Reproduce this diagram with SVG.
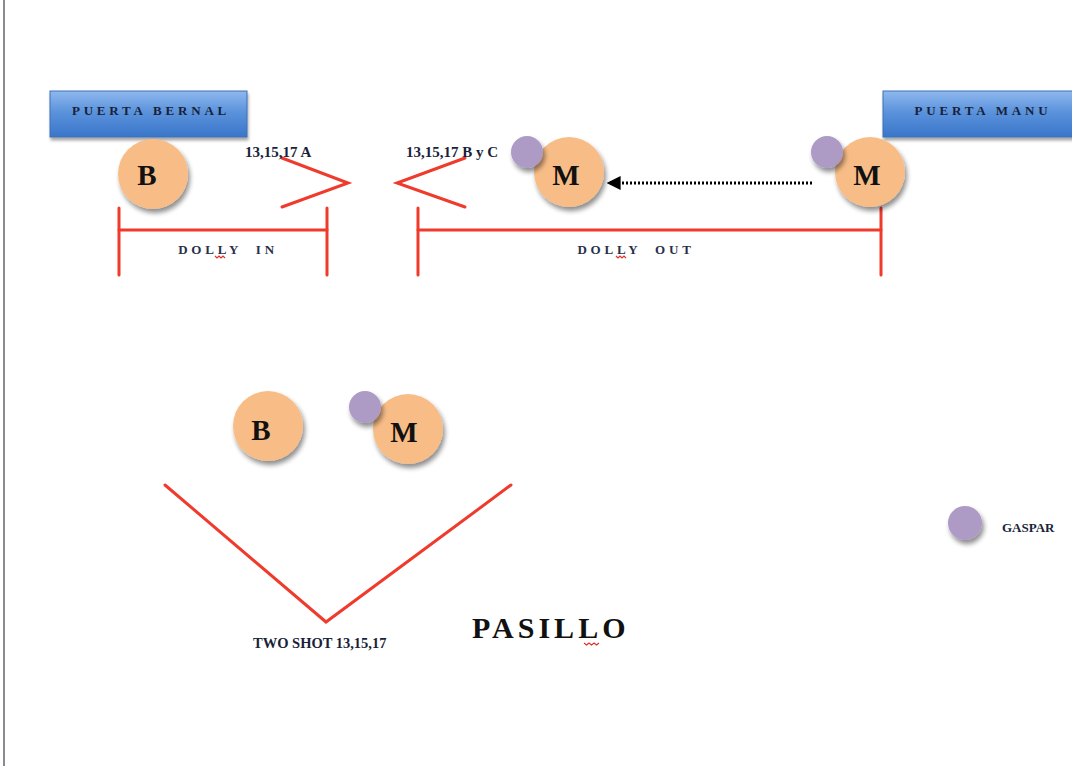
<svg xmlns="http://www.w3.org/2000/svg" width="1072" height="766" viewBox="0 0 1072 766">
<defs>
<linearGradient id="doorGrad" x1="0" y1="0" x2="0" y2="1">
<stop offset="0" stop-color="#8fb8ee"/>
<stop offset="0.45" stop-color="#5b93dc"/>
<stop offset="1" stop-color="#3a75c9"/>
</linearGradient>
<filter id="shadow" x="-30%" y="-30%" width="170%" height="170%">
<feGaussianBlur in="SourceAlpha" stdDeviation="2.5"/>
<feOffset dx="2" dy="4" result="b"/>
<feComponentTransfer><feFuncA type="linear" slope="0.45"/></feComponentTransfer>
<feMerge><feMergeNode/><feMergeNode in="SourceGraphic"/></feMerge>
</filter>
<filter id="lineShadow" x="-5%" y="-200%" width="110%" height="500%">
<feGaussianBlur in="SourceAlpha" stdDeviation="1.5"/>
<feOffset dx="1" dy="3" result="b"/>
<feComponentTransfer><feFuncA type="linear" slope="0.35"/></feComponentTransfer>
<feMerge><feMergeNode/><feMergeNode in="SourceGraphic"/></feMerge>
</filter>
<marker id="arrow" viewBox="0 0 10 10" refX="9" refY="5" markerWidth="14" markerHeight="14" markerUnits="userSpaceOnUse" orient="auto">
<path d="M0,0 L10,5 L0,10 z" fill="#000"/>
</marker>
</defs>
<style>
.actor{fill:#f8bd87;filter:url(#shadow)}
.cam{fill:#ad9bc6;filter:url(#shadow)}
.lbl{font-family:"Liberation Serif",serif;font-size:29px;font-weight:bold;fill:#111;text-anchor:middle}
.red{stroke:#ef3a2c;stroke-width:3;fill:none;stroke-linecap:round;stroke-linejoin:miter}
.wall{stroke:#4f80c0;stroke-width:3;filter:url(#lineShadow)}
.door{fill:url(#doorGrad);stroke:#3d70b5;stroke-width:1;filter:url(#lineShadow)}
.doortxt{font-family:"Liberation Serif",serif;font-size:13px;font-weight:bold;fill:#1a1f3a;letter-spacing:3.8px;text-anchor:middle}
.small{font-family:"Liberation Serif",serif;font-size:15px;font-weight:bold;fill:#1a1f3a}
.twoshot{font-size:14.5px}
.gaspar{font-size:13px}
.dolly{font-family:"Liberation Serif",serif;font-size:13px;font-weight:bold;fill:#2a2f4a;letter-spacing:3.8px;text-anchor:middle;white-space:pre}
.squig{stroke:#e0302a;stroke-width:1.2;fill:none}
</style>
<rect width="1072" height="766" fill="#fff"/>
<line x1="4" y1="0" x2="4" y2="766" stroke="#8a8a90" stroke-width="2"/>

<g id="walls">
<line class="wall" x1="15" y1="137" x2="1072" y2="137"/>
<line class="wall" x1="15" y1="670" x2="1072" y2="670"/>
</g>

<g id="puerta-bernal">
<rect class="door" x="50" y="91" width="197" height="46"/>
<text class="doortxt" x="151" y="115">PUERTA BERNAL</text>
</g>
<g id="puerta-manu">
<rect class="door" x="883" y="91" width="195" height="46"/>
<text class="doortxt" x="983" y="115">PUERTA MANU</text>
</g>

<g id="connectors">
<line x1="812" y1="183" x2="608" y2="183" stroke="#000" stroke-width="3" stroke-dasharray="2,2" marker-end="url(#arrow)"/>
</g>

<g id="cam-a">
<polyline class="red" points="282,158 348,183 282,207"/>
<text class="small" x="245" y="157">13,15,17 A</text>
</g>
<g id="cam-byc">
<polyline class="red" points="465,158 397,183 465,207"/>
<text class="small" x="406" y="157">13,15,17 B y C</text>
</g>

<g id="dolly-in">
<line class="red" x1="119" y1="208" x2="119" y2="275"/>
<line class="red" x1="327" y1="208" x2="327" y2="275"/>
<line class="red" x1="119" y1="230" x2="327" y2="230"/>
<text class="dolly" x="228" y="254" xml:space="preserve">DOLLY  IN</text>
<path class="squig" d="M215,256 l2,2 l2,-2 l2,2 l2,-2 l2,2"/>
</g>
<g id="dolly-out">
<line class="red" x1="418" y1="208" x2="418" y2="275"/>
<line class="red" x1="881" y1="208" x2="881" y2="275"/>
<line class="red" x1="418" y1="230" x2="881" y2="230"/>
<text class="dolly" x="636" y="254" xml:space="preserve">DOLLY  OUT</text>
<path class="squig" d="M616,256 l2,2 l2,-2 l2,2 l2,-2 l2,2"/>
</g>

<g id="b-top">
<circle class="actor" cx="153" cy="174" r="35"/>
<text class="lbl" x="147" y="185">B</text>
</g>
<g id="m-top-1">
<circle class="actor" cx="569" cy="172" r="35"/>
<circle class="cam" cx="527" cy="152" r="16"/>
<text class="lbl" x="566" y="185">M</text>
</g>
<g id="m-top-2">
<circle class="actor" cx="870" cy="172" r="35"/>
<circle class="cam" cx="827" cy="152" r="16"/>
<text class="lbl" x="867" y="185">M</text>
</g>

<g id="b-low">
<circle class="actor" cx="268" cy="426" r="35"/>
<text class="lbl" x="261" y="440">B</text>
</g>
<g id="m-low">
<circle class="actor" cx="408" cy="429" r="35"/>
<circle class="cam" cx="365" cy="407" r="16"/>
<text class="lbl" x="404" y="442">M</text>
</g>

<g id="two-shot">
<polyline class="red" points="165,485 326,622 511,485"/>
<text class="small twoshot" x="253" y="648">TWO SHOT 13,15,17</text>
</g>

<g id="pasillo">
<text x="472" y="638" font-family="Liberation Serif,serif" font-size="30" font-weight="bold" fill="#111" letter-spacing="4">PASILLO</text>
<path class="squig" d="M584,643 l2.5,2 l2.5,-2 l2.5,2 l2.5,-2 l2.5,2 l2.5,-2"/>
</g>

<g id="gaspar">
<circle class="cam" cx="965" cy="523" r="17"/>
<text class="small gaspar" x="1002" y="532">GASPAR</text>
</g>
</svg>
